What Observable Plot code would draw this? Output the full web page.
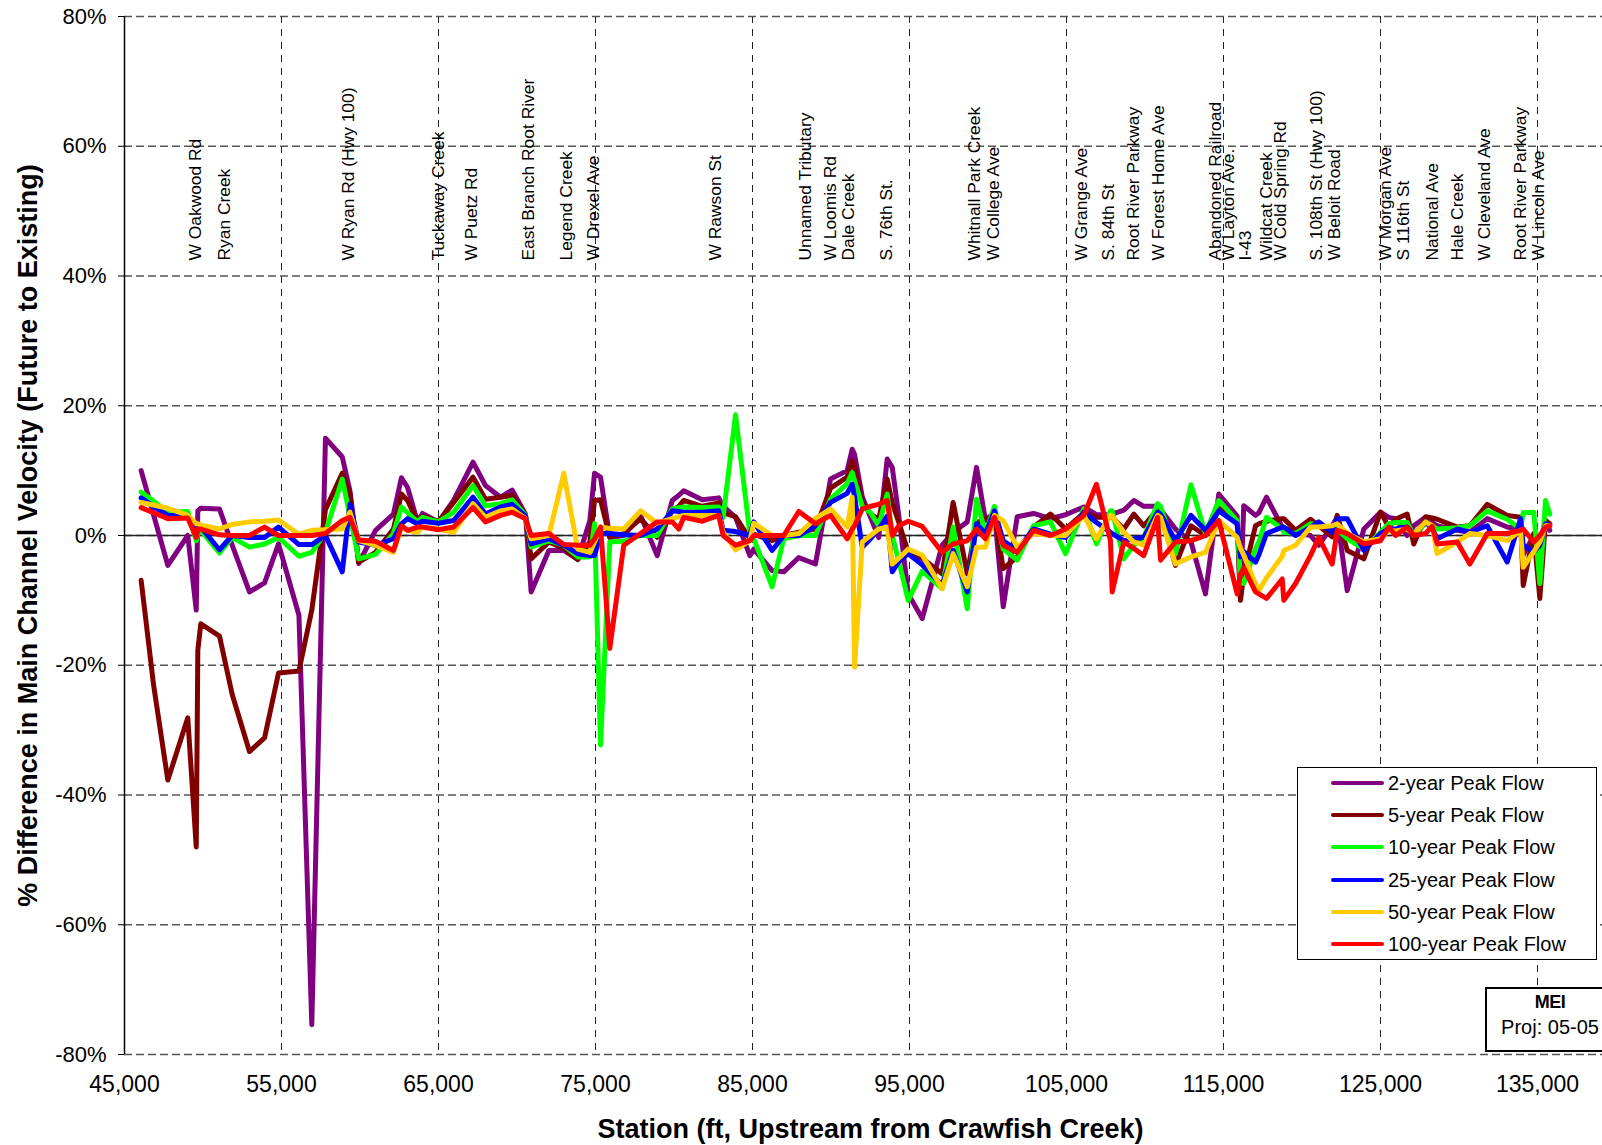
<!DOCTYPE html>
<html>
<head>
<meta charset="utf-8">
<script src="https://cdn.jsdelivr.net/npm/d3@7"></script>
<script src="https://cdn.jsdelivr.net/npm/@observablehq/plot@0.6"></script>
<style>
  html, body { margin: 0; padding: 0; background: #fff; }
  body { width: 1602px; height: 1145px; overflow: hidden; position: relative;
         font-family: "Liberation Sans", Arial, sans-serif; }
  #chart { position: absolute; left: 0; top: 0; }
  .legend { position: absolute; left: 1297px; top: 767px; width: 300px; height: 193px;
            border: 1px solid #000; background: #fff; box-sizing: border-box; }
  .legend .row { position: absolute; left: 0; height: 24px; width: 100%; }
  .legend .swatch { position: absolute; left: 33px; top: 10px; width: 53px; height: 4px; border-radius: 2px; }
  .legend .lbl { position: absolute; left: 90px; top: 0; font-size: 20px; line-height: 24px; color: #000; white-space: nowrap; }
  .stamp { position: absolute; left: 1485px; top: 987px; width: 126px; height: 61px;
           border: 2px solid #000; background: #fff; text-align: center; color: #000; }
  .stamp .logo { font-weight: bold; font-size: 18px; margin-top: 3px; letter-spacing: -0.5px; }
  .stamp .proj { font-size: 20px; margin-top: 3px; }
</style>
</head>
<body>
<div id="chart"></div>
<div class="legend" id="legend"></div>
<div class="stamp"><div class="logo">MEI</div><div class="proj">Proj: 05-05</div></div>
<script>
// Cross-section stations (ft upstream from Crawfish Creek)
const stations = [
  46060, 46850, 47760, 49030, 49570, 49670, 49860, 51050, 51860, 52960, 53920, 54810, 56110, 56930, 57800,
  58870, 59360, 59920, 60990, 62130, 62640, 63030, 63660, 63980, 65000, 65960, 67200, 67990, 68950,
  69690, 70540, 70900, 72030, 72980, 73870, 74640, 74940, 75320, 75910, 76800, 77870, 78930, 79890,
  80310, 80620, 81800, 82850, 83130, 83920, 84830, 85080, 86250, 86990, 87950, 89010, 89970, 91030,
  91350, 91500, 91990,
  92520, 93040, 93580, 93900, 94320, 94920, 95810, 97080, 97780, 98680, 99270, 99840, 100410, 100970,
  101860, 102900, 103980, 104940, 106100, 106910, 107800, 107910, 108650, 109290, 109920, 110800,
  110990, 111940, 112930,
  113850, 114700, 115870, 116080, 116290,
  117040, 117250, 117740, 118740, 118840, 119590, 120540, 121070, 121920, 122240, 122880, 123940,
  125000, 125530, 125960, 126700, 127120, 127870, 128290, 128610, 129890, 130690, 131800, 133070,
  133920, 134090, 134760, 135150, 135510, 135780
];

// % difference in main channel velocity, future vs existing, per peak flow event
const flow2yr = [
  10.0, 3.2, -4.6, 0.0, -11.5, 3.8, 4.2, 4.1, -1.5, -8.7, -7.3, -1.3, -12.3, -75.4, 15.0,
  12.1, 6.9, -4.3, 0.8, 3.3, 8.9, 7.4, 2.1, 3.4, 2.1, 5.4, 11.3, 7.7, 5.9,
  7.0, 3.3, -8.7, -2.3, -2.3, -3.7, 2.3, 9.6, 9.0, -0.3, 0.0, 3.1, -3.1, 5.4,
  6.2, 6.9, 5.5, 5.8, 4.5, 2.8, -3.1, -2.1, -5.4, -5.6, -3.4, -4.4, 8.7, 10.0,
  13.3, 12.5, 6.0,
  2.8, -0.3, 11.8, 10.5, 3.0, -9.0, -12.8, -1.5, 0.5, 2.1, 10.5, 2.3, 3.5, -11.0,
  2.9, 3.4, 2.6, 3.2, 4.4, 3.2, 3.2, 3.3, 3.9, 5.4, 4.5, 4.5,
  4.0, 1.0, -1.0,
  -9.0, 6.4, 3.0, -9.7, 4.6,
  3.1, 3.5, 5.9, 1.3, 1.2, 0.5, 0.0, -1.5, 1.5, 2.8, -8.5, 1.0,
  3.6, 2.8, 2.6, 0.0, 1.5, 2.8, 2.0, 1.5, 0.8, 0.5, 2.6, 1.3,
  1.0, -3.0, 0.0, -1.0, 2.3, 0.8
];
const flow5yr = [
  -6.9, -23.0, -37.7, -28.1, -48.0, -17.7, -13.6, -15.5, -24.5, -33.3, -31.2, -21.2, -20.9, -11.5, 4.0,
  9.6, 6.4, -4.1, -2.6, 1.0, 6.4, 5.4, 2.1, 3.0, 2.1, 5.1, 9.0, 5.6, 5.9,
  6.2, 3.1, -3.6, -1.0, -2.0, -3.7, -1.0, 5.4, 5.5, -0.3, 0.3, 2.6, -0.3, 3.8,
  4.5, 5.4, 4.5, 5.0, 3.5, 2.9, -0.5, 0.2, -0.8, 0.0, 0.5, 1.0, 7.3, 9.0,
  11.5, 10.5, 5.0,
  3.3, 2.5, 8.7, 5.0, 2.0, -2.6, -3.5, -5.9, 5.1, -5.9, 2.0, 2.5, 3.3, -5.1,
  -3.3, 1.3, 3.3, 1.0, 3.5, 2.8, 2.8, 2.8, 1.0, 3.3, 1.5, 4.0,
  3.5, -4.6, 1.5,
  0.0, 4.2, 2.0, -10.0, -6.0,
  1.5, 1.8, 2.2, 2.6, 2.6, 0.8, 2.5, 1.5, -0.2, 3.1, -2.3, -3.6,
  3.6, 1.3, 2.5, 3.3, -1.3, 2.9, 2.7, 2.5, 1.3, 1.5, 4.8, 3.1,
  2.8, -7.7, 0.3, -9.7, 2.3, 1.8
];
const flow10yr = [
  6.7, 5.3, 3.6, 3.7, -0.8, 0.5, 0.8, -2.7, -0.3, -1.8, -1.3, -0.3, -3.2, -2.6, 0.5,
  8.7, 3.0, -3.6, -2.9, 0.3, 4.4, 3.5, 2.1, 2.8, 2.1, 3.6, 7.7, 4.6, 4.9,
  5.5, 3.1, -1.8, -0.8, -1.5, -3.3, -3.3, 1.8, -32.3, -1.0, -0.9, 0.0, 0.0, 4.1,
  4.3, 4.4, 4.3, 4.4, 2.8, 18.6, 0.3, -0.5, -7.9, -0.5, 0.0, 0.0, 5.6, 8.0,
  9.7, 8.5, 4.5,
  3.5, 1.5, 6.4, 0.0, -4.0, -10.0, -5.5, -8.2, 1.3, -11.3, 5.6, 0.3, 4.5, -2.1,
  -3.8, 1.5, 2.1, -2.8, 4.1, -1.3, 3.8, 3.8, -3.6, -1.5, -0.3, 4.9,
  4.5, -2.8, 7.8,
  0.3, 5.4, 2.3, -7.2, -7.4,
  -2.0, -1.0, 2.8, 1.0, 0.5, 0.3, 1.8, 1.6, 1.2, 1.0, -0.5, -2.1,
  0.5, 1.8, 2.0, 2.0, 0.0, 1.9, 1.5, 1.0, 1.2, 1.5, 3.8, 2.5,
  1.0, 3.5, 3.6, -7.4, 5.4, 3.3
];
const flow25yr = [
  5.8, 4.5, 3.1, 3.1, 0.3, 1.0, 1.3, -2.2, 0.0, -0.3, -0.3, 1.3, -1.4, -1.4, 0.0,
  -5.6, 4.8, -1.0, -1.5, -0.5, 1.8, 2.6, 1.8, 2.2, 1.9, 2.3, 5.9, 3.3, 4.4,
  4.8, 3.0, -1.3, -0.5, -1.5, -2.8, -3.1, -3.1, 0.3, 0.3, 0.1, 0.0, 1.0, 3.8,
  3.7, 3.6, 3.6, 3.8, 0.8, 0.6, 0.0, 2.1, -2.3, 0.0, 0.0, 1.5, 5.1, 6.5,
  7.9, 6.0, -1.8,
  -0.5, 1.0, 3.0, -5.6, -4.0, -2.8, -4.5, -7.7, -2.3, -8.7, 1.8, 0.3, 3.8, -0.8,
  -2.3, 1.0, 0.2, -0.3, 3.6, 2.0, 0.5, 0.3, -0.8, -0.5, -0.3, 3.6,
  3.3, -0.8, 3.1,
  0.8, 3.8, 1.8, -3.3, -2.5,
  -4.1, -3.0, 0.3, 1.3, 1.3, 0.0, 1.3, 2.1, 0.5, 2.6, 2.6, -2.3,
  0.3, 1.0, 1.0, 1.3, 0.2, 2.1, 1.0, -0.5, 1.0, 0.5, 1.5, -4.1,
  2.6, -1.5, -2.5, -1.5, 1.8, 1.5
];
const flow50yr = [
  5.1, 4.7, 4.2, 3.1, 1.8, 1.8, 1.6, 1.0, 1.7, 2.1, 2.2, 2.4, 0.2, 0.8, 0.9,
  1.0, 3.6, -0.8, -1.5, -2.6, 1.3, 0.8, 0.5, 1.3, 1.0, 0.5, 4.9, 2.8, 3.8,
  4.1, 2.6, -0.5, 0.0, 9.6, -2.1, -2.6, -1.0, 1.3, 1.1, 1.0, 3.8, 1.9, 2.6,
  2.9, 3.1, 3.1, 3.1, 0.5, -2.2, -0.8, 1.9, 0.0, 0.0, 0.3, 2.6, 4.1, 1.3,
  5.9, -20.3, -1.0,
  0.0, 1.0, 1.3, -4.4, -3.5, -2.1, -3.0, -8.2, -2.8, -7.9, -1.8, -1.8, 3.1, 2.3,
  -1.8, 0.3, 0.0, 0.0, 3.1, -0.5, 3.1, 3.0, 0.5, -1.0, -1.5, 3.1,
  2.8, -4.4, -3.3,
  -2.6, 2.3, -0.3, -2.0, -3.0,
  -7.5, -8.5, -6.5, -3.2, -2.3, -1.5, 1.3, 1.3, 1.5, 1.8, 0.3, -1.0,
  -0.5, 0.8, 0.7, 1.0, 0.2, 2.1, 1.5, -2.8, -1.0, 0.3, 0.0, -0.8,
  0.8, -4.9, -2.5, -1.0, 1.5, 1.5
];
const flow100yr = [
  4.3, 3.5, 2.6, 2.7, -0.3, 1.0, 1.0, 0.1, 0.0, 0.0, 1.3, 0.0, 0.0, 0.0, 0.3,
  2.3, 2.8, -0.7, -0.9, -2.3, 1.5, 0.8, 1.3, 1.3, 0.9, 1.3, 4.3, 2.1, 3.1,
  3.6, 2.6, 0.0, 0.3, -1.4, -1.5, -1.5, -0.5, 1.3, -17.4, -1.5, 0.3, 2.1, 2.1,
  1.0, 2.8, 2.2, 3.1, 0.0, -1.5, -0.8, 0.0, 0.0, 0.0, 3.7, 1.8, 3.1, -0.5,
  1.0, 1.5, 4.1,
  4.5, 4.8, 5.4, 0.0, 1.5, 2.2, 1.4, -2.6, -1.3, -0.8, 1.0, -0.5, 2.8, -1.5,
  -2.6, 0.8, 0.0, 1.0, 3.1, 7.9, -0.8, -8.7, -1.0, -2.0, -3.1, 2.8,
  -3.8, -1.0, -0.8,
  0.0, 2.3, -9.0, -6.0, -5.0,
  -8.7, -9.0, -9.7, -6.7, -10.0, -7.4, -3.1, -0.3, -4.4, 0.8, 0.3, -1.3,
  -0.8, 1.3, 0.0, 1.3, 0.0, 0.3, 1.4, -1.3, -1.0, -4.4, 0.3, 0.3,
  0.8, 1.0, -1.0, 0.0, 1.3, 1.5
];

const seriesNames = ["2-year Peak Flow", "5-year Peak Flow", "10-year Peak Flow",
                     "25-year Peak Flow", "50-year Peak Flow", "100-year Peak Flow"];
const seriesColors = ["#800080", "#800000", "#00ff00", "#0000ff", "#ffcc00", "#ff0000"];
const seriesValues = [flow2yr, flow5yr, flow10yr, flow25yr, flow50yr, flow100yr];

// Road crossings and tributaries along the channel
const crossingNames = [
  "W Oakwood Rd", "Ryan Creek", "W Ryan Rd (Hwy 100)", "Tuckaway Creek", "W Puetz Rd",
  "East Branch Root River", "Legend Creek", "W Drexel Ave", "W Rawson St", "Unnamed Tributary",
  "W Loomis Rd", "Dale Creek", "S. 76th St.", "Whitnall Park Creek", "W College Ave",
  "W Grange Ave", "S. 84th St", "Root River Parkway", "W Forest Home Ave", "Abandoned Railroad",
  "W Layton Ave.", "I-43", "Wildcat Creek", "W Cold Spring Rd", "S. 108th St (Hwy 100)",
  "W Beloit Road", "W Morgan Ave", "S 116th St", "National Ave", "Hale Creek",
  "W Cleveland Ave", "Root River Parkway", "W Lincoln Ave"
];
const crossingStations = [
  49520, 51370, 59270, 64980, 67100,
  70730, 73150, 74870, 82640, 88380,
  89970, 91110, 93540, 99140, 100350,
  105960, 107680, 109270, 110860, 114490,
  115320, 116400, 117740, 118630, 120920,
  122070, 125320, 126460, 128310, 129900,
  131620, 133920, 135060
];

const xTicks = [45000, 55000, 65000, 75000, 85000, 95000, 105000, 115000, 125000, 135000];
const yTicks = [-80, -60, -40, -20, 0, 20, 40, 60, 80];
const xTitle = "Station (ft, Upstream from Crawfish Creek)";
const yTitle = "% Difference in Main Channel Velocity (Future to Existing)";

const font = "'Liberation Sans', Arial, sans-serif";

const lineMarks = seriesValues.map((vals, i) =>
  Plot.line(vals, {
    x: stations, y: vals,
    stroke: seriesColors[i], strokeWidth: 5,
    strokeLinejoin: "round", strokeLinecap: "round"
  })
);

const chart = Plot.plot({
  width: 1602,
  height: 1145,
  marginLeft: 124,
  marginRight: 0,
  marginTop: 16,
  marginBottom: 91,
  style: { fontFamily: font, background: "white", color: "#000" },
  x: { domain: [45000, 139140] },
  y: { domain: [-80, 80] },
  marks: [
    Plot.gridX(xTicks.slice(1), { stroke: "#222", strokeOpacity: 1, strokeWidth: 1, strokeDasharray: "7,6" }),
    Plot.gridY(yTicks, { stroke: "#555", strokeOpacity: 1, strokeWidth: 1.3, strokeDasharray: "8,4" }),
    Plot.ruleY([0], { stroke: "#222", strokeWidth: 1.3 }),
    Plot.ruleX([45000], { stroke: "#000", strokeWidth: 1.5 }),
    Plot.axisY(yTicks, { tickSize: 6, tickPadding: 12, fontSize: 22, tickFormat: d => d + "%", label: null, stroke: "#000" }),
    Plot.axisX(xTicks, { tickSize: 0, tickPadding: 21, fontSize: 23, tickFormat: d3.format(","), label: null }),
    ...lineMarks,
    Plot.text(crossingNames, {
      x: crossingStations, text: d => d,
      frameAnchor: "top", dy: 244, rotate: -90, textAnchor: "start", lineAnchor: "middle",
      fontSize: 17.4, fill: "#000"
    }),
    Plot.text([xTitle], { text: d => d, frameAnchor: "bottom", dy: 75, dx: 7, lineAnchor: "middle", textAnchor: "middle",
                          fontSize: 27, fontWeight: "bold", fill: "#000" }),
    Plot.text([yTitle], { text: d => d, frameAnchor: "left", dx: -96, rotate: -90, lineAnchor: "middle", textAnchor: "middle",
                          fontSize: 27, fontWeight: "bold", fill: "#000" })
  ]
});
document.getElementById("chart").appendChild(chart);

// Legend rows
const legend = document.getElementById("legend");
seriesNames.forEach((name, i) => {
  const row = document.createElement("div");
  row.className = "row";
  row.style.top = (3 + i * 32.2) + "px";
  const sw = document.createElement("div");
  sw.className = "swatch";
  sw.style.background = seriesColors[i];
  const lbl = document.createElement("div");
  lbl.className = "lbl";
  lbl.textContent = name;
  row.appendChild(sw);
  row.appendChild(lbl);
  legend.appendChild(row);
});
</script>
</body>
</html>
